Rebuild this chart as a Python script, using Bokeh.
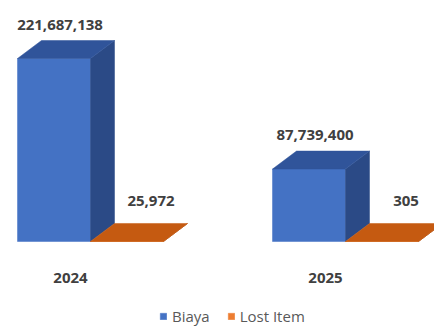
from bokeh.plotting import figure
from bokeh.models import Range1d, Legend, LegendItem
from bokeh.core.properties import value
from bokeh.embed import file_html
from bokeh.resources import INLINE

# ---- data ----
categories = ["2024", "2025"]
series_names = ["Biaya", "Lost Item"]
biaya = [221687138, 87739400]
lost_item = [25972, 305]

# ---- styling / layout ----
W, H = 434, 327
FONT = "Open Sans"
front_colors = ["#4472C4", "#ED7D31"]
top_colors = ["#30549A", "#C55A11"]
side_colors = ["#2B4A86", "#A9490C"]

cat_px = 255.0                      # pixels per category step
first_px = 90.0                     # pixel x of first category centre
base_px = 241.0                     # pixel y (from top) of value 0
y_per_px = max(biaya) / 183.0       # value units per pixel

x_start = -first_px / cat_px
x_end = (W - first_px) / cat_px
y_start = -(H - base_px) * y_per_px
y_end = base_px * y_per_px

bar_w = 73.0 / cat_px
ddx = 24.0 / cat_px
ddy = 18.0 * y_per_px

p = figure(width=W, height=H, output_backend="svg", toolbar_location=None,
           x_range=Range1d(x_start, x_end), y_range=Range1d(y_start, y_end),
           min_border=0)
p.axis.visible = False
p.grid.visible = False
p.outline_line_color = None
p.background_fill_color = "white"
p.border_fill_color = "white"

legend_items = []
for s, vals in enumerate([biaya, lost_item]):
    lefts, rights, tops = [], [], []
    top_xs, top_ys, side_xs, side_ys = [], [], [], []
    for i, v in enumerate(vals):
        x0 = i - bar_w + s * bar_w
        x1 = x0 + bar_w
        lefts.append(x0); rights.append(x1); tops.append(v)
        top_xs.append([x0, x1, x1 + ddx, x0 + ddx])
        top_ys.append([v, v, v + ddy, v + ddy])
        side_xs.append([x1, x1 + ddx, x1 + ddx, x1])
        side_ys.append([0, ddy, v + ddy, v])
    r_front = p.quad(left=lefts, right=rights, bottom=[0] * len(vals), top=tops,
                     fill_color=front_colors[s], line_color=front_colors[s], line_width=0.5)
    p.patches(xs=side_xs, ys=side_ys, fill_color=side_colors[s],
              line_color=side_colors[s], line_width=0.5)
    p.patches(xs=top_xs, ys=top_ys, fill_color=top_colors[s],
              line_color=top_colors[s], line_width=0.5)
    legend_items.append(LegendItem(label=series_names[s], renderers=[r_front]))

# value labels
label_dx = [ddx / 4, ddx]
label_gap_px = [16, 22]
for s, vals in enumerate([biaya, lost_item]):
    xs, ys, txt = [], [], []
    for i, v in enumerate(vals):
        x0 = i - bar_w + s * bar_w
        xs.append(x0 + bar_w / 2 + label_dx[s])
        ys.append(v + ddy + label_gap_px[s] * y_per_px)
        txt.append(f"{v:,}")
    p.text(x=xs, y=ys, text=txt, text_align="center", text_baseline="middle",
           text_font=value(FONT), text_font_style="bold", text_font_size="15px",
           text_color="#404040")

# category labels
p.text(x=[i - 20.0 / cat_px for i in range(len(categories))],
       y=[-36 * y_per_px] * len(categories), text=categories,
       text_align="center", text_baseline="middle",
       text_font=value(FONT), text_font_style="bold", text_font_size="15px",
       text_color="#404040")

legend = Legend(items=legend_items, orientation="horizontal", location=(159, 1),
                glyph_width=8, glyph_height=8, label_height=14, label_standoff=5,
                spacing=17, padding=0, margin=0, border_line_color=None,
                background_fill_alpha=0,
                label_text_font=FONT, label_text_font_size="15px",
                label_text_color="#595959")
p.add_layout(legend, "center")

open("out.html", "w").write(file_html(p, INLINE))
